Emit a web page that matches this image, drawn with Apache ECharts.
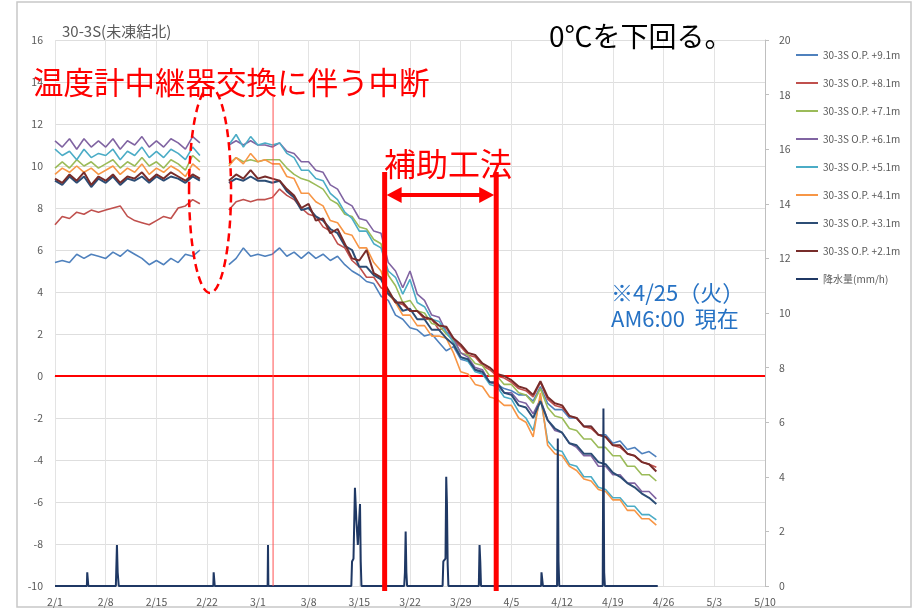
<!DOCTYPE html>
<html><head><meta charset="utf-8">
<script src="https://cdn.jsdelivr.net/npm/echarts@6/dist/echarts.min.js"></script>
<style>html,body{margin:0;padding:0;background:#fff}#c{width:915px;height:614px}</style>
</head><body><div id="c"></div>
<script>
// x tick labels (one per week, day 0 = 2/1)
const xTickLabels = ['2/1','2/8','2/15','2/22','3/1','3/8','3/15','3/22','3/29','4/5','4/12','4/19','4/26','5/3','5/10'];
const seriesNames = ['30-3S O.P. +9.1m','30-3S O.P. +8.1m','30-3S O.P. +7.1m','30-3S O.P. +6.1m','30-3S O.P. +5.1m','30-3S O.P. +4.1m','30-3S O.P. +3.1m','30-3S O.P. +2.1m'];
const rainName = '降水量(mm/h)';
const N = null;
// daily temperatures (℃), index = days since 2/1, gap = logger interruption
const t91 = [5.4,5.5,5.4,5.8,5.6,5.8,5.7, 5.6,5.9,5.7,6.0,5.8,5.6,5.3, 5.5,5.3,5.6,5.4,5.8,5.7,6.0, N,N,N, 5.3,5.6,6.1,5.7,
  5.8,5.7,5.8,6.1,5.7,5.9,5.6, 5.9,5.6,5.8,5.5,5.7,5.3,5.0, 4.8,4.5,4.4,3.8,3.6,2.9,2.7, 2.3,2.2,1.9,2.0,1.6,1.2,1.4,
  0.8,0.7,0.3,0.1,-0.3,-0.4,-0.6, -0.7,-0.9,-0.9,-1.2,-0.5,-1.3,-1.6, -1.6,-2.0,-2.0,-2.4,-2.4,-2.8,-2.8, -3.2,-3.1,-3.5,-3.4,-3.7,-3.6,-3.85];
const t81 = [7.2,7.6,7.5,7.8,7.7,7.9,7.8, 7.9,8.0,8.1,7.6,7.4,7.3,7.2, 7.4,7.6,7.5,8.0,8.1,8.4,8.2, N,N,N, 7.9,8.3,8.4,8.3,
  8.4,8.4,8.5,8.9,8.6,8.4,8.0, 7.7,7.6,7.1,6.9,6.3,6.1,5.5, 5.2,4.7,4.7,4.2,4.0,3.5,3.4, 3.1,3.1,2.7,2.7,2.2,2.3,1.7,
  1.4,1.0,0.9,0.5,0.3,0.0,-0.1, -0.3,-0.6,-0.7,-1.0,-0.3,-1.1,-1.4, -1.5,-1.9,-2.0,-2.4,-2.5,-2.8,-2.9, -3.3,-3.4,-3.7,-3.8,-4.1,-4.2,-4.35];
const t71 = [9.9,10.2,9.9,10.3,10.0,10.2,9.9, 10.1,10.3,9.9,10.2,10.0,10.4,10.0, 10.2,9.9,10.3,10.1,9.8,10.5,10.2, N,N,N, 10.1,10.4,10.2,10.3,
  10.2,10.3,10.3,10.3,9.9,9.6,9.4, 9.3,9.1,8.9,8.4,8.2,7.7,7.6, 7.1,7.0,6.5,6.3,4.8,4.3,3.5, 3.6,3.1,3.0,2.5,2.4,2.0,1.7,
  1.1,1.0,0.6,0.5,0.0,0.0,-0.4, -0.4,-0.8,-0.9,-1.3,-0.6,-1.5,-1.9, -2.0,-2.5,-2.6,-3.0,-3.0,-3.4,-3.4, -3.8,-3.8,-4.3,-4.3,-4.7,-4.7,-5.0];
const t61 = [11.2,10.9,11.3,10.8,11.3,10.9,11.2, 10.9,11.3,10.8,11.2,11.0,11.4,10.9, 11.2,10.9,11.3,11.1,10.8,11.4,11.1, N,N,N, 11.0,11.2,11.0,11.2,
  11.0,11.0,10.9,11.1,10.7,10.6,10.2, 10.2,9.8,9.7,9.1,8.9,8.3,8.1, 7.5,7.4,6.9,6.8,5.4,5.0,4.2, 5.0,3.9,3.6,2.9,2.8,2.1,1.8,
  1.1,0.9,0.4,0.3,-0.3,-0.4,-0.8, -0.8,-1.2,-1.3,-1.8,-1.1,-2.1,-2.6, -2.7,-3.2,-3.4,-3.8,-3.8,-4.3,-4.3, -4.7,-4.7,-5.1,-5.1,-5.5,-5.5,-5.85];
const t51 = [10.8,10.5,10.7,10.3,10.8,10.4,10.6, 10.5,10.8,10.3,10.7,10.5,10.9,10.4, 10.7,10.4,10.8,10.6,10.3,10.9,10.5, N,N,N, 11.0,11.5,10.9,11.4,
  11.0,11.1,11.0,11.1,10.6,10.4,9.8, 9.8,9.4,9.3,8.7,8.4,7.8,7.5, 6.9,6.9,6.3,6.1,5.0,4.7,3.9, 4.6,3.5,3.3,2.7,2.6,2.1,1.6,
  0.9,0.7,0.2,0.1,-0.4,-0.5,-1.0, -1.1,-1.7,-2.0,-2.6,-1.0,-3.1,-3.5, -3.6,-4.2,-4.3,-4.8,-4.8,-5.3,-5.4, -5.8,-5.8,-6.2,-6.2,-6.6,-6.6,-6.85];
const t41 = [9.6,9.9,9.7,10.0,9.7,9.9,9.6, 9.8,10.0,9.6,9.9,9.7,10.1,9.6, 9.9,9.7,10.0,9.8,9.5,10.1,9.8, N,N,N, 10.0,10.4,10.1,10.6,
  10.2,10.3,10.1,10.1,9.5,9.4,8.7, 8.7,8.3,8.1,7.4,7.3,6.8,6.7, 6.1,6.1,5.4,5.0,3.9,3.5,2.9, 2.9,2.4,2.4,1.9,1.9,1.8,1.1,
  0.2,0.1,-0.4,-0.5,-1.0,-1.1,-1.4, -1.4,-2.0,-2.2,-2.9,-0.8,-3.3,-3.7, -3.8,-4.3,-4.5,-4.9,-5.0,-5.4,-5.5, -5.9,-5.9,-6.4,-6.4,-6.8,-6.8,-7.1];
const t31 = [9.3,9.1,9.5,9.2,9.5,9.0,9.4, 9.2,9.5,9.1,9.4,9.3,9.5,9.2, 9.5,9.3,9.5,9.4,9.2,9.5,9.3, N,N,N, 9.2,9.4,9.3,9.5,
  9.3,9.3,9.2,9.3,8.8,8.5,7.9, 8.0,7.6,7.4,7.0,6.8,6.2,6.0, 5.2,5.2,4.8,4.6,3.9,3.6,3.1, 3.2,2.7,2.7,2.2,2.2,1.8,1.5,
  0.9,0.8,0.3,0.2,-0.3,-0.3,-0.8, -0.9,-1.4,-1.5,-2.0,-1.2,-2.1,-2.5, -2.7,-3.2,-3.3,-3.7,-3.7,-4.1,-4.2, -4.6,-4.8,-5.1,-5.3,-5.6,-5.8,-6.1];
const t21 = [9.4,9.2,9.6,9.3,9.7,9.1,9.5, 9.3,9.6,9.2,9.5,9.4,9.7,9.3, 9.6,9.4,9.7,9.5,9.3,9.6,9.4, N,N,N, 9.3,9.6,9.4,9.8,
  9.4,9.5,9.4,9.3,8.9,8.6,8.0, 8.2,7.4,7.5,6.8,7.0,6.3,5.6, 5.5,6.0,4.9,4.7,4.1,3.5,3.5, 3.1,3.1,2.8,2.7,2.4,2.35,1.8,
  1.5,1.1,1.0,0.6,0.4,0.1,0.0, -0.2,-0.5,-0.6,-0.9,-0.25,-1.0,-1.3, -1.4,-1.9,-2.0,-2.4,-2.4,-2.8,-2.9, -3.3,-3.3,-3.7,-3.8,-4.1,-4.2,-4.55];
const tempSets = [t91,t81,t71,t61,t51,t41,t31,t21];
// precipitation (mm/h): [day, value]
const rainDays = [0,4.4,4.45,4.55,4.6, 8.4,8.45,8.55,8.6,8.65,8.75,8.8, 21.85,21.9,22.0,22.05, 29.35,29.4,29.45,
  40.9,41.0,41.2,41.4,41.6,41.8,42.1,42.2,42.3, 48.2,48.3,48.4,48.5,48.6, 53.5,53.6,53.9,54.0,54.1,54.2,54.3,
  58.5,58.6,58.7,58.8, 67.1,67.15,67.3,67.35, 69.3,69.4,69.5,69.6, 75.6,75.7,75.75,75.8,75.9, 83.2];
const rainVals = [0,0,0.5,0.5,0, 0,0.5,1.5,1.0,0.5,0.5,0, 0,0.5,0.5,0, 0,1.5,0,
  0,0.9,1.0,3.6,2.4,1.5,3.0,0.9,0, 0,0.5,2.0,0.5,0, 0,0.9,1.0,4.0,3.0,0.8,0,
  0,1.5,0.9,0, 0,0.5,0.5,0, 0,5.4,0.9,0, 0,6.5,3.0,0.5,0, 0];
const colors = ['#4F81BD','#C0504D','#9BBB59','#8064A2','#4BACC6','#F79646','#2C4D75','#772C2A','#1F3864'];
const refLineDay = 30.1;        // thin red line (3/3)
const workPeriod = [45.5, 60.9]; // 補助工法 period (days)

const chart = echarts.init(document.getElementById('c'));
const FONT = 'Noto Sans CJK JP';
const series = tempSets.map((vals, k) => ({
  name: seriesNames[k], type: 'line', yAxisIndex: 0, symbol: 'none', connectNulls: false,
  lineStyle: { width: k >= 6 ? 2 : 1.6, color: colors[k] }, itemStyle: { color: colors[k] },
  data: vals.map((v, i) => [i, v]), z: 3 + k, animation: false
}));
series[0].markLine = {
  silent: true, symbol: 'none', label: { show: false }, animation: false,
  lineStyle: { color: '#FF0000', width: 2, type: 'solid' },
  data: [ { yAxis: 0 } ]
};
series.push({
  name: rainName, type: 'line', yAxisIndex: 1, symbol: 'none',
  lineStyle: { width: 2, color: colors[8] }, itemStyle: { color: colors[8] },
  data: rainDays.map((d, i) => [d, rainVals[i]]), z: 12, animation: false
});

chart.setOption({
  animation: false,
  textStyle: { fontFamily: FONT },
  title: { text: '30-3S(未凍結北)', left: 57, top: 19, textStyle: { fontSize: 15, fontWeight: 'normal', color: '#595959', fontFamily: FONT } },
  legend: {
    orient: 'vertical', left: 796, top: 48, padding: 0, itemGap: 14, itemWidth: 22, itemHeight: 2, icon: 'rect',
    textStyle: { fontSize: 10, color: '#595959', lineHeight: 14, fontFamily: FONT },
    data: seriesNames.concat([rainName])
  },
  grid: { left: 55, right: 150, top: 40, bottom: 28, containLabel: false },
  xAxis: {
    type: 'value', min: 0, max: 98, interval: 7,
    axisLine: { show: true, lineStyle: { color: '#bfbfbf' } }, axisTick: { show: false },
    axisLabel: { color: '#595959', fontSize: 10.5, margin: 11, formatter: v => xTickLabels[Math.round(v / 7)] || '' },
    splitLine: { show: true, lineStyle: { color: '#e3e3e3' } }
  },
  yAxis: [
    { type: 'value', min: -10, max: 16, interval: 2,
      axisLine: { show: false }, axisTick: { show: false },
      axisLabel: { color: '#595959', fontSize: 10.5, margin: 12 },
      splitLine: { show: true, lineStyle: { color: '#dedede' } } },
    { type: 'value', min: 0, max: 20, interval: 2, position: 'right',
      axisLine: { show: true, lineStyle: { color: '#bfbfbf' } },
      axisTick: { show: true, length: 4, lineStyle: { color: '#bfbfbf' } },
      axisLabel: { color: '#595959', fontSize: 10.5, margin: 14 },
      splitLine: { show: false } }
  ],
  series: series
});

const px = d => chart.convertToPixel({ xAxisIndex: 0 }, d);
const xa = px(workPeriod[0]), xb = px(workPeriod[1]), xr = px(refLineDay);
const yBottom = chart.convertToPixel({ yAxisIndex: 0 }, -10);
const ell = chart.convertToPixel({ gridIndex: 0 }, [21.4, 8.86]);
const arrowY = 195;
chart.setOption({
  graphic: [
    { type: 'rect', shape: { x: 17, y: 2, width: 894, height: 605 }, style: { fill: 'none', stroke: '#c8c8c8', lineWidth: 1.5 }, silent: true, z: 0 },
    { type: 'line', shape: { x1: xr, y1: 96, x2: xr, y2: yBottom }, style: { stroke: '#FF5050', lineWidth: 1 }, z: 40 },
    { type: 'ellipse', shape: { cx: ell[0], cy: ell[1], rx: 21, ry: 103 }, style: { fill: 'none', stroke: '#FF0000', lineWidth: 2.5, lineDash: [8, 5] }, z: 50 },
    { type: 'line', shape: { x1: xa, y1: 172, x2: xa, y2: 591 }, style: { stroke: '#FF0000', lineWidth: 5 }, z: 50 },
    { type: 'line', shape: { x1: xb, y1: 172, x2: xb, y2: 591 }, style: { stroke: '#FF0000', lineWidth: 5 }, z: 50 },
    { type: 'line', shape: { x1: xa + 12, y1: arrowY, x2: xb - 12, y2: arrowY }, style: { stroke: '#FF0000', lineWidth: 4 }, z: 50 },
    { type: 'polygon', shape: { points: [[xa + 2, arrowY], [xa + 17, arrowY - 8], [xa + 17, arrowY + 8]] }, style: { fill: '#FF0000' }, z: 50 },
    { type: 'polygon', shape: { points: [[xb - 2, arrowY], [xb - 17, arrowY - 8], [xb - 17, arrowY + 8]] }, style: { fill: '#FF0000' }, z: 50 },
    { type: 'text', left: 33, top: 67, style: { text: '温度計中継器交換に伴う中断', fill: '#FF0000', font: '30.5px "Noto Sans CJK JP"' }, z: 60 },
    { type: 'text', left: 384, top: 148, style: { text: '補助工法', fill: '#FF0000', font: '32px "Noto Sans CJK JP"' }, z: 60 },
    { type: 'text', left: 549, top: 22, style: { text: '0℃を下回る。', fill: '#000000', font: '28px "Noto Sans CJK JP"' }, z: 60 },
    { type: 'text', left: 611, top: 282, style: { text: '※4/25（火）', fill: '#2672C4', font: '22px "Noto Sans CJK JP"' }, z: 60 },
    { type: 'text', left: 611, top: 308, style: { text: 'AM6:00  現在', fill: '#2672C4', font: '22px "Noto Sans CJK JP"' }, z: 60 }
  ]
});
</script></body></html>
